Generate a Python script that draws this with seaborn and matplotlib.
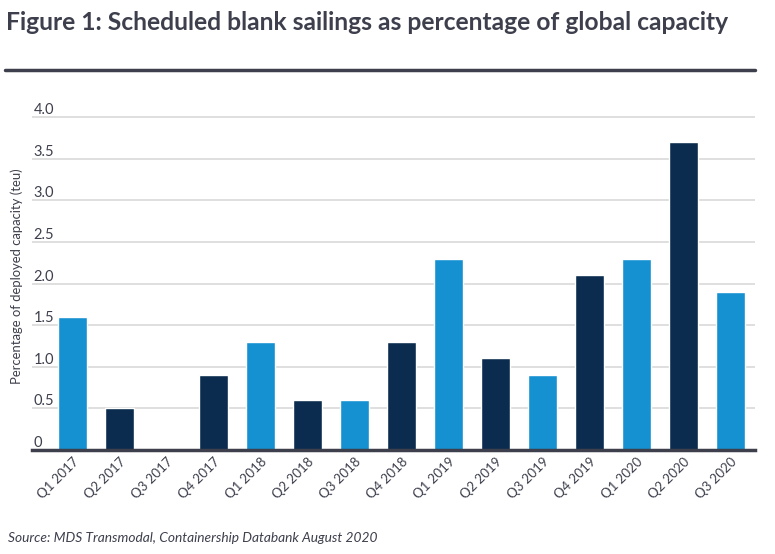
import matplotlib
matplotlib.use("Agg")
import matplotlib.pyplot as plt
import seaborn as sns
import pandas as pd

quarters = ["Q1 2017", "Q2 2017", "Q3 2017", "Q4 2017",
            "Q1 2018", "Q2 2018", "Q3 2018", "Q4 2018",
            "Q1 2019", "Q2 2019", "Q3 2019", "Q4 2019",
            "Q1 2020", "Q2 2020", "Q3 2020"]
values = [1.6, 0.5, 0.0, 0.9, 1.3, 0.6, 0.6, 1.3, 2.3, 1.1, 0.9, 2.1, 2.3, 3.7, 1.9]
yticks = [0, 0.5, 1.0, 1.5, 2.0, 2.5, 3.0, 3.5, 4.0]
ytick_labels = ["0", "0.5", "1.0", "1.5", "2.0", "2.5", "3.0", "3.5", "4.0"]

LIGHT = "#1591d1"
DARK = "#0b2c4e"
TEXT = "#3d3f4c"
bar_colors = [LIGHT if i % 2 == 0 else DARK for i in range(len(quarters))]

sns.set_theme(style="white")
plt.rcParams["font.family"] = ["Lato", "DejaVu Sans"]

df = pd.DataFrame({"quarter": quarters, "value": values})

fig = plt.figure(figsize=(7.75, 5.54), dpi=100)
ax = fig.add_axes([32 / 775, 1 - 450 / 554, (755 - 32) / 775, (450 - 108.7) / 554])

sns.barplot(data=df, x="quarter", y="value", hue="quarter",
            palette=dict(zip(quarters, bar_colors)), legend=False,
            width=0.62, saturation=1, ax=ax, zorder=3)

ax.set_xlim(-0.862, 14.52)
ax.set_ylim(0, 4.1)
ax.set_yticks(yticks)
ax.set_yticklabels(ytick_labels)
ax.yaxis.grid(True, color="#d9d9d9", linewidth=1.2, zorder=0)
ax.set_axisbelow(True)
for s in ["top", "right", "left"]:
    ax.spines[s].set_visible(False)
ax.spines["bottom"].set_color(TEXT)
ax.spines["bottom"].set_linewidth(2.5)
ax.spines["bottom"].set_zorder(5)

ax.tick_params(axis="y", length=0, pad=-1, labelsize=10.5, labelcolor=TEXT)
for lab in ax.get_yticklabels():
    lab.set_horizontalalignment("left")
    lab.set_verticalalignment("bottom")

ax.tick_params(axis="x", length=0, pad=4, labelsize=9.5, labelcolor=TEXT)
for lab in ax.get_xticklabels():
    lab.set_rotation(45)
    lab.set_horizontalalignment("right")
    lab.set_rotation_mode("anchor")

ax.set_xlabel("")
ax.set_ylabel("Percentage of deployed capacity (teu)", fontsize=9.4, color=TEXT)
ax.yaxis.set_label_coords(-9 / 723, 0.51)

fig.text(6 / 775, 1 - 22 / 554, "Figure 1: Scheduled blank sailings as percentage of global capacity",
         fontsize=17.7, fontweight="bold", color=TEXT, va="center", ha="left")
fig.add_artist(plt.Line2D([5 / 775, 755 / 775], [1 - 69.5 / 554, 1 - 69.5 / 554],
                          color=TEXT, linewidth=2.5, transform=fig.transFigure))
fig.text(8 / 775, 1 - 538 / 554, "Source: MDS Transmodal, Containership Databank August 2020",
         fontsize=9.9, fontstyle="italic", color=TEXT, va="center", ha="left")

fig.savefig("out.png", dpi=100, facecolor="white")
